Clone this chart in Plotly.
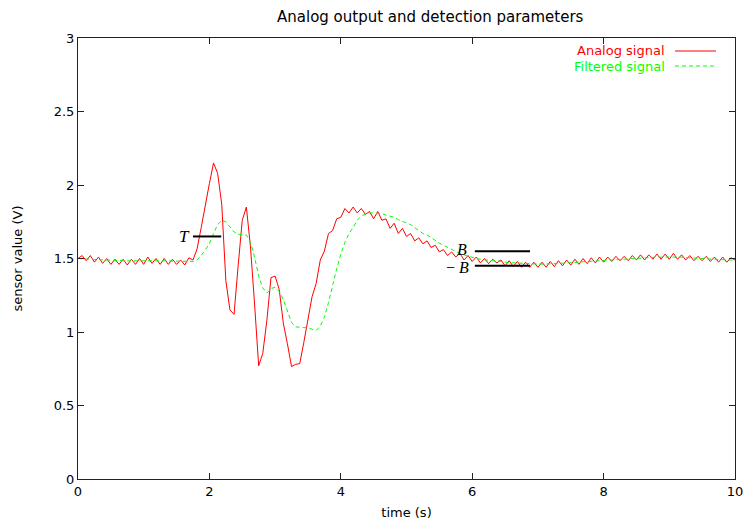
import plotly.graph_objects as go

# ---------------- data ----------------
dt = 0.0625
analog = [
    1.50, 1.52, 1.485, 1.52, 1.475, 1.51, 1.467, 1.50, 1.46, 1.495,
    1.46, 1.495, 1.456, 1.495, 1.46, 1.50, 1.46, 1.51, 1.467, 1.50,
    1.46, 1.50, 1.46, 1.495, 1.46, 1.49, 1.456, 1.505, 1.49, 1.565,
    1.71, 1.87, 2.01, 2.15, 2.08, 1.87, 1.35, 1.15, 1.12, 1.45,
    1.76, 1.85, 1.58, 1.19, 0.77, 0.855, 1.08, 1.37, 1.38, 1.29,
    1.06, 0.92, 0.765, 0.78, 0.785, 0.93, 1.08, 1.24, 1.33, 1.49,
    1.55, 1.67, 1.69, 1.77, 1.78, 1.84, 1.81, 1.85, 1.81, 1.84,
    1.80, 1.82, 1.77, 1.82, 1.76, 1.77, 1.705, 1.74, 1.67, 1.705,
    1.65, 1.67, 1.62, 1.64, 1.60, 1.62, 1.575, 1.59, 1.545, 1.56,
    1.52, 1.545, 1.51, 1.535, 1.49, 1.52, 1.48, 1.51, 1.47, 1.50,
    1.465, 1.495, 1.47, 1.49, 1.45, 1.485, 1.445, 1.48, 1.44, 1.475,
    1.44, 1.475, 1.44, 1.475, 1.44, 1.48, 1.445, 1.485, 1.45, 1.49,
    1.455, 1.495, 1.46, 1.50, 1.465, 1.505, 1.47, 1.51, 1.475, 1.51,
    1.48, 1.515, 1.485, 1.515, 1.485, 1.52, 1.49, 1.525, 1.49, 1.525,
    1.495, 1.53, 1.495, 1.53, 1.495, 1.535, 1.495, 1.525, 1.49, 1.52,
    1.485, 1.515, 1.485, 1.515, 1.48, 1.51, 1.475, 1.51, 1.475, 1.505,
    1.49,
]
filtered = [
    1.50, 1.497, 1.495, 1.494, 1.493, 1.492, 1.49, 1.49, 1.488, 1.487,
    1.486, 1.485, 1.484, 1.483, 1.483, 1.483, 1.484, 1.485, 1.486, 1.486,
    1.485, 1.484, 1.483, 1.482, 1.481, 1.48, 1.479, 1.479, 1.48, 1.49,
    1.52, 1.56, 1.60, 1.67, 1.73, 1.76, 1.75, 1.715, 1.68, 1.665,
    1.665, 1.66, 1.61, 1.51, 1.38, 1.30, 1.265, 1.295, 1.305, 1.275,
    1.22, 1.14, 1.065, 1.035, 1.03, 1.03, 1.028, 1.02, 1.01, 1.04,
    1.10, 1.20, 1.32, 1.43, 1.53, 1.61, 1.67, 1.71, 1.76, 1.79,
    1.80, 1.81, 1.81, 1.81, 1.805, 1.795, 1.79, 1.78, 1.765, 1.755,
    1.74, 1.73, 1.71, 1.69, 1.67, 1.66, 1.64, 1.62, 1.605, 1.59,
    1.575, 1.56, 1.545, 1.535, 1.525, 1.515, 1.505, 1.50, 1.495, 1.49,
    1.49, 1.485, 1.485, 1.478, 1.475, 1.472, 1.47, 1.468, 1.466, 1.465,
    1.464, 1.463, 1.462, 1.462, 1.462, 1.463, 1.464, 1.466, 1.468, 1.47,
    1.472, 1.474, 1.476, 1.478, 1.48, 1.482, 1.484, 1.487, 1.489, 1.491,
    1.493, 1.495, 1.497, 1.499, 1.501, 1.503, 1.504, 1.505, 1.506, 1.507,
    1.508, 1.509, 1.51, 1.51, 1.51, 1.511, 1.51, 1.509, 1.508, 1.506,
    1.504, 1.502, 1.50, 1.498, 1.496, 1.494, 1.492, 1.491, 1.49, 1.489,
    1.489,
]
time = [k * dt for k in range(len(analog))]

threshold_T = 1.65
band_B = [1.55, 1.45]
T_span = [1.75, 2.18]
B_span = [6.04, 6.88]

x_ticks = [0, 2, 4, 6, 8, 10]
y_ticks = [0, 0.5, 1, 1.5, 2, 2.5, 3]
y_ticklabels = ["0", "0.5", "1", "1.5", "2", "2.5", "3"]

# ---------------- layout geometry ----------------
W, H = 743, 525
L, R, T, B = 78, 8, 38, 46
PW, PH = W - L - R, H - T - B
RED = "#ff0000"
GREEN = "#00ff00"
DASH = "4px,3px"

FONT = "DejaVu Sans"
fig = go.Figure()
fig.add_trace(go.Scatter(x=time, y=analog, mode="lines", name="Analog signal",
                         line=dict(color=RED, width=1), showlegend=False))
fig.add_trace(go.Scatter(x=time, y=filtered, mode="lines", name="Filtered signal",
                         line=dict(color=GREEN, width=1, dash=DASH), showlegend=False))

# threshold markers
fig.add_shape(type="line", xref="x", yref="y", x0=T_span[0], x1=T_span[1],
              y0=threshold_T, y1=threshold_T, line=dict(color="black", width=2))
for lvl in band_B:
    fig.add_shape(type="line", xref="x", yref="y", x0=B_span[0], x1=B_span[1],
                  y0=lvl, y1=lvl, line=dict(color="black", width=2))

fig.add_annotation(x=T_span[0], y=threshold_T, xref="x", yref="y", text="<i>T</i>",
                   showarrow=False, xanchor="right", yanchor="middle", xshift=-1,
                   font=dict(family="Liberation Serif", size=17, color="black"))
fig.add_annotation(x=B_span[0], y=band_B[0], xref="x", yref="y", text="<i>B</i>",
                   showarrow=False, xanchor="right", yanchor="middle", xshift=-6, yshift=2,
                   font=dict(family="Liberation Serif", size=16, color="black"))
fig.add_annotation(x=B_span[0], y=band_B[1], xref="x", yref="y", text="− <i>B</i>",
                   showarrow=False, xanchor="right", yanchor="middle", xshift=-4, yshift=-2,
                   font=dict(family="Liberation Serif", size=16, color="black"))

# legend (gnuplot style: text then sample on the right)
legend_items = [("Analog signal", RED, "solid"), ("Filtered signal", GREEN, DASH)]
for i, (label, col, dash) in enumerate(legend_items):
    ypix = 51 + 15 * i
    yp = 1 - (ypix - T) / PH
    fig.add_annotation(x=(667 - L) / PW, y=yp, xref="paper", yref="paper", text=label,
                       showarrow=False, xanchor="right", yanchor="middle",
                       font=dict(family=FONT, size=13, color=col))
    fig.add_shape(type="line", xref="paper", yref="paper",
                  x0=(675 - L) / PW, x1=(716 - L) / PW, y0=yp, y1=yp,
                  line=dict(color=col, width=1, dash=dash))

axis_common = dict(showline=True, linecolor="#222", linewidth=1, mirror="ticks",
                   ticks="inside", ticklen=6, tickcolor="#222", tickwidth=1,
                   showgrid=False, zeroline=False, automargin=False,
                   ticklabeloverflow="allow",
                   tickfont=dict(family=FONT, size=13, color="black"))
fig.update_xaxes(range=[0, 10], tickvals=x_ticks, ticktext=[str(v) for v in x_ticks],
                 title=dict(text="time (s)", font=dict(family=FONT, size=13, color="black"), standoff=10),
                 **axis_common)
fig.update_yaxes(range=[0, 3], tickvals=y_ticks, ticktext=y_ticklabels,
                 title=dict(text="sensor value (V)", font=dict(family=FONT, size=13, color="black"), standoff=28),
                 **axis_common)

fig.add_annotation(x=(275 - L) / PW, y=1 + (T - 17) / PH, xref="paper", yref="paper",
                   text="Analog output and detection parameters", showarrow=False,
                   xanchor="left", yanchor="middle",
                   font=dict(family=FONT, size=15, color="black"))

fig.update_layout(
    width=W, height=H,
    margin=dict(l=L, r=R, t=T, b=B, autoexpand=False),
    paper_bgcolor="white", plot_bgcolor="white",
    font=dict(family=FONT, size=13, color="black"),
)

fig.write_html("out.html")
